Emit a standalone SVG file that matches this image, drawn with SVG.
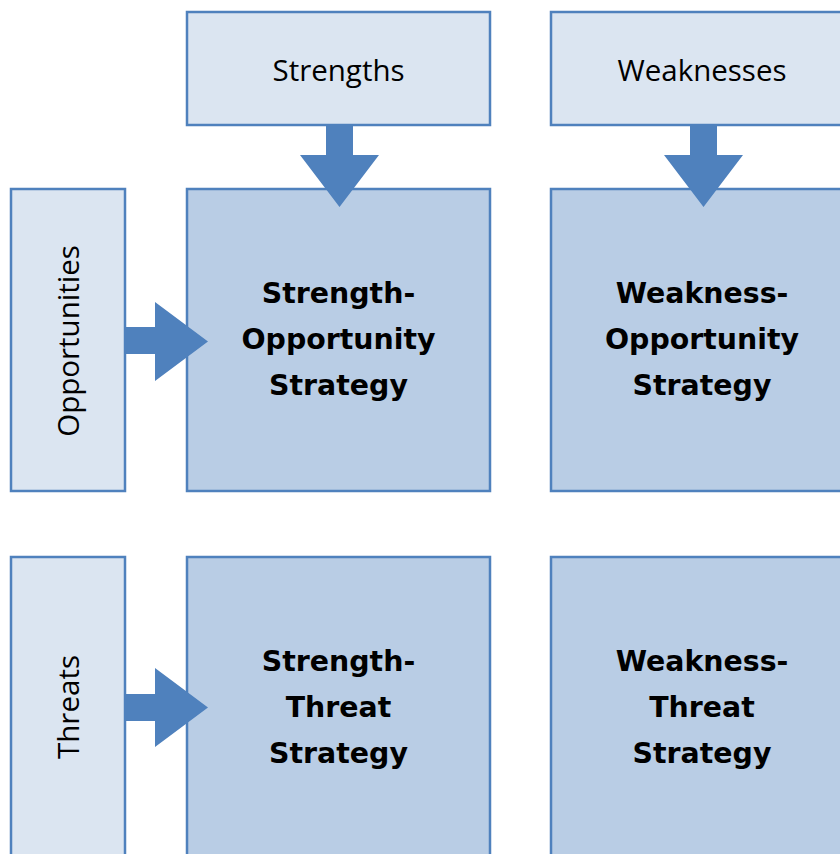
<svg xmlns="http://www.w3.org/2000/svg" width="840" height="854" viewBox="0 0 840 854">
<style>
.lt{fill:#dbe5f1;stroke:#4f81bd;stroke-width:2.5}
.dk{fill:#b9cde5;stroke:#4f81bd;stroke-width:2.5}
.ar{fill:#4f81bd}
.t{font-family:"Open Sans","Noto Sans",sans-serif;font-size:29.5px;fill:#000;text-anchor:middle}
.b{font-family:"DejaVu Sans",sans-serif;font-weight:bold;font-size:28.4px;fill:#000;text-anchor:middle}
</style>
<rect width="840" height="854" fill="#fff"/>
<g id="strengths"><rect class="lt" x="187" y="12" width="303" height="113"/><text class="t" x="338.5" y="81">Strengths</text></g>
<g id="weaknesses"><rect class="lt" x="551" y="12" width="303" height="113"/><text class="t" x="702" y="81">Weaknesses</text></g>
<g id="opportunities"><rect class="lt" x="11" y="189" width="114" height="302"/><text class="t" transform="translate(79,341) rotate(-90)" x="0" y="0">Opportunities</text></g>
<g id="threats"><rect class="lt" x="11" y="557" width="114" height="310"/><text class="t" transform="translate(79,707) rotate(-90)" x="0" y="0">Threats</text></g>
<g id="so"><rect class="dk" x="187" y="189" width="303" height="302"/><text class="b" x="338.5" y="303">Strength-</text><text class="b" x="338.5" y="349">Opportunity</text><text class="b" x="338.5" y="395">Strategy</text></g>
<g id="wo"><rect class="dk" x="551" y="189" width="303" height="302"/><text class="b" x="702" y="303">Weakness-</text><text class="b" x="702" y="349">Opportunity</text><text class="b" x="702" y="395">Strategy</text></g>
<g id="st"><rect class="dk" x="187" y="557" width="303" height="310"/><text class="b" x="338.5" y="671">Strength-</text><text class="b" x="338.5" y="717">Threat</text><text class="b" x="338.5" y="763">Strategy</text></g>
<g id="wt"><rect class="dk" x="551" y="557" width="303" height="310"/><text class="b" x="702" y="671">Weakness-</text><text class="b" x="702" y="717">Threat</text><text class="b" x="702" y="763">Strategy</text></g>
<g id="connectors">
<polygon class="ar" points="326,125 353,125 353,155 379,155 339.5,207 300,155 326,155"/>
<polygon class="ar" points="690,125 717,125 717,155 743,155 703.5,207 664,155 690,155"/>
<polygon class="ar" points="125,327 155,327 155,302 208,341.5 155,381 155,354 125,354"/>
<polygon class="ar" points="125,694 155,694 155,668 208,707.5 155,747 155,721 125,721"/>
</g>
</svg>
